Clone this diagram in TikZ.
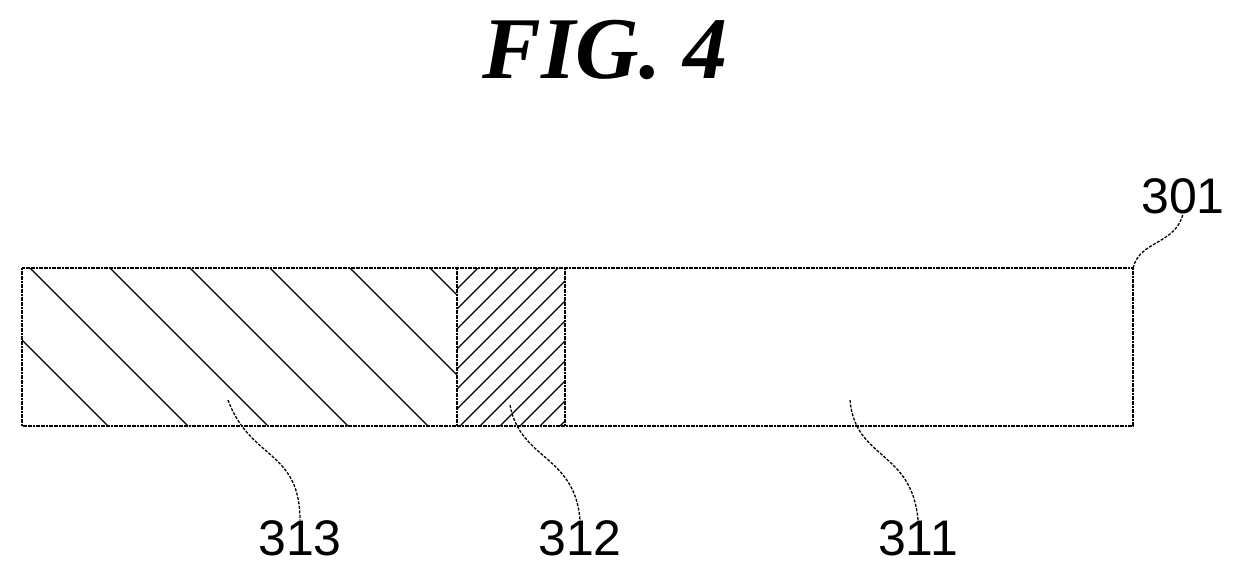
\documentclass[tikz,border=0pt]{standalone}
\usepackage{fontspec}
\setmainfont{Liberation Serif}
\newfontfamily\lblfont{Liberation Sans}
\begin{document}
\begin{tikzpicture}[x=1pt,y=-1pt,
  box/.style={draw,line width=2pt,dash pattern=on 2pt off 0.6pt},
  lead/.style={line width=1.3pt,dash pattern=on 3pt off 1.5pt},
  lbl/.style={font=\lblfont\fontsize{50}{50}\selectfont,inner sep=0pt}]
\useasboundingbox (0,0) rectangle (1241,575);
\node[inner sep=0pt,font=\bfseries\itshape\fontsize{88}{88}\selectfont] (title) at (605,50) {FIG. 4};
\coordinate (A) at (22,268); \coordinate (B) at (1133,426);
\begin{scope}
\clip (22,268) rectangle (457,426);
\foreach \t in {-50,30,110,190,270,350,430}
  \draw[line width=1.2pt] (\t,268) -- ++(158,158);
\end{scope}
\begin{scope}
\clip (457,268) rectangle (565,426);
\foreach \t in {300,320,...,600}
  \draw[line width=1.2pt] (\t,426) -- ++(158,-158);
\end{scope}
\draw[box] (A) rectangle (B);
\draw[box] (457,268) -- (457,426);
\draw[box] (565,268) -- (565,426);
\node[lbl] (l313) at (300,538) {313};
\node[lbl] (l312) at (580,538) {312};
\node[lbl] (l311) at (918,538) {311};
\node[lbl] (l301) at (1183,196) {301};
\draw[lead] (228,400) .. controls (250,460) and (300,450) .. (l313.north);
\draw[lead] (510,405) .. controls (520,460) and (575,455) .. (l312.north);
\draw[lead] (850,400) .. controls (855,460) and (912,450) .. (l311.north);
\draw[lead] (1133,268) .. controls (1140,240) and (1175,245) .. (l301.south);
\end{tikzpicture}
\end{document}
